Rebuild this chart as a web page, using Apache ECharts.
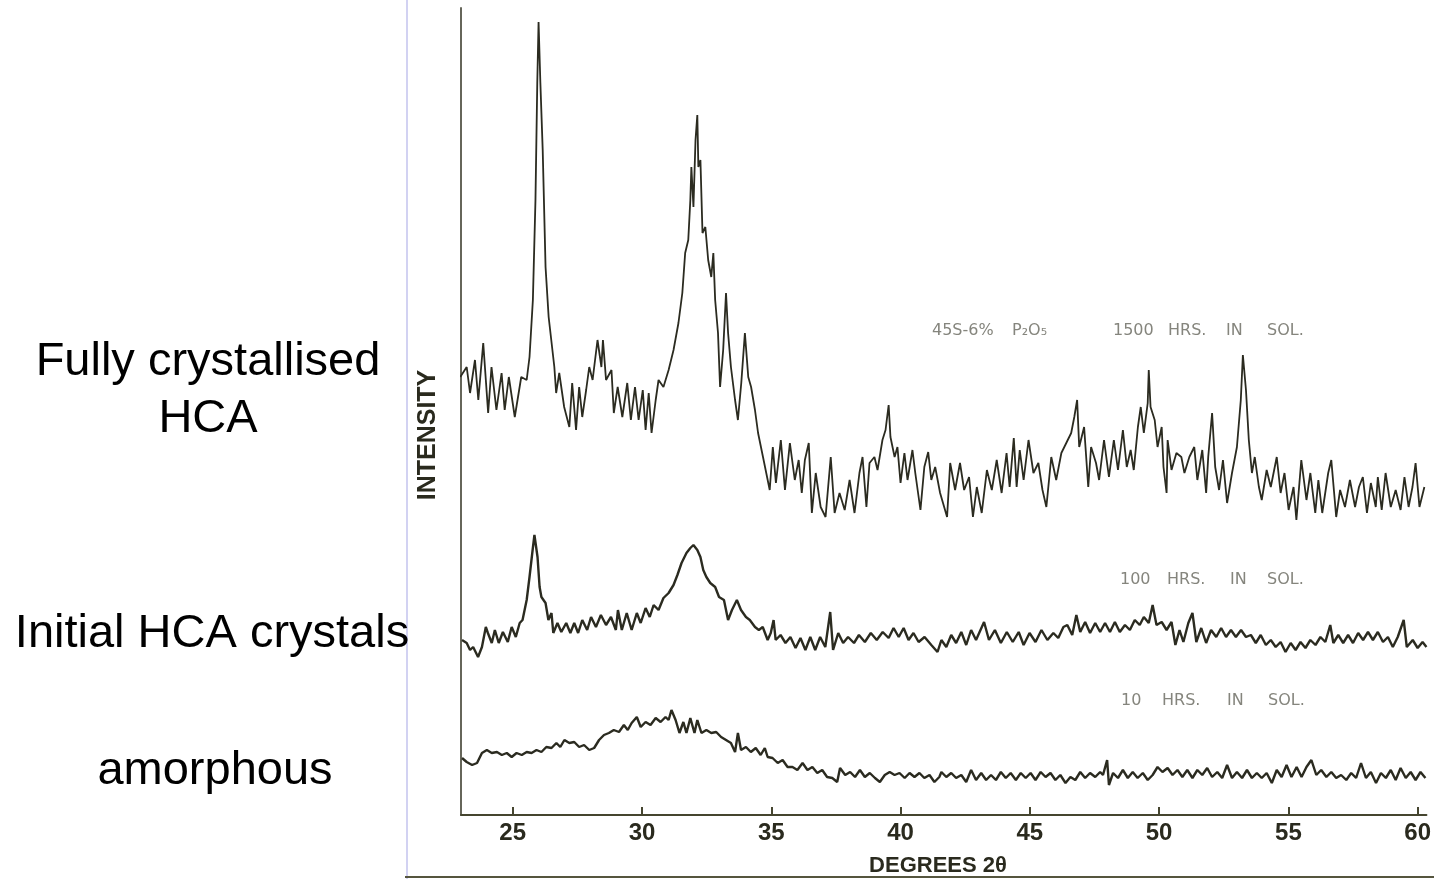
<!DOCTYPE html>
<html>
<head>
<meta charset="utf-8">
<script src="https://cdn.jsdelivr.net/npm/echarts@6/dist/echarts.min.js"></script>
<style>
html,body{margin:0;padding:0;background:#fff;}
#chart{width:1434px;height:879px;}
</style>
</head>
<body>
<div id="chart"></div>
<script>
// X-ray diffraction scans, 45S-6% P2O5 glass, intensity in arbitrary units
const xTicks = [25, 30, 35, 40, 45, 50, 55, 60];

const angle1500 = [22.97,23.22,23.35,23.54,23.67,23.86,24.05,24.18,24.37,24.57,24.69,24.85,25.08,25.33,25.54,25.65,25.78,25.88,25.95,26.00,26.07,26.16,26.27,26.39,26.61,26.68,26.80,26.99,27.19,27.30,27.45,27.57,27.69,27.84,27.96,28.09,28.28,28.43,28.49,28.61,28.82,28.91,29.06,29.24,29.43,29.57,29.73,29.87,30.03,30.14,30.26,30.37,30.53,30.64,30.83,31.03,31.22,31.41,31.56,31.67,31.79,31.87,31.91,31.99,32.07,32.14,32.18,32.26,32.34,32.45,32.56,32.68,32.76,32.83,32.94,33.02,33.14,33.25,33.33,33.44,33.60,33.71,33.84,33.98,34.11,34.22,34.37,34.49,34.68,34.94,35.06,35.18,35.37,35.53,35.72,35.91,36.06,36.18,36.30,36.45,36.57,36.72,36.91,37.10,37.30,37.45,37.64,37.84,38.03,38.22,38.41,38.53,38.68,38.80,38.99,39.11,39.30,39.42,39.54,39.61,39.77,39.88,40.00,40.15,40.27,40.46,40.57,40.77,40.92,41.07,41.19,41.34,41.53,41.80,41.92,42.11,42.30,42.46,42.65,42.80,42.95,43.14,43.34,43.53,43.72,43.91,44.10,44.22,44.38,44.49,44.61,44.76,44.95,45.14,45.33,45.49,45.64,45.83,46.02,46.22,46.41,46.60,46.72,46.83,46.91,47.10,47.26,47.37,47.56,47.68,47.87,48.06,48.25,48.41,48.60,48.75,48.90,49.02,49.18,49.29,49.41,49.56,49.60,49.67,49.83,49.94,50.10,50.17,50.29,50.33,50.48,50.67,50.86,50.98,51.17,51.36,51.48,51.67,51.82,51.90,52.05,52.17,52.32,52.47,52.63,52.82,53.01,53.16,53.24,53.36,53.47,53.59,53.70,53.86,53.97,54.16,54.32,54.55,54.70,54.85,55.01,55.20,55.31,55.50,55.70,55.85,56.04,56.16,56.31,56.54,56.66,56.85,57.00,57.19,57.38,57.58,57.73,57.88,58.04,58.19,58.38,58.46,58.61,58.76,58.96,59.15,59.34,59.49,59.65,59.80,59.92,60.07,60.26];
const int1500 = [438,448,422,455,415,472,402,448,405,442,405,438,398,438,435,458,515,615,732,793,732,665,548,498,448,422,442,408,388,432,385,428,398,425,448,435,475,448,475,435,445,402,428,398,432,395,428,395,425,385,422,382,415,435,428,445,465,492,522,562,575,615,648,608,675,700,648,655,582,588,555,538,562,515,482,428,465,522,482,448,415,395,432,482,438,428,405,382,358,325,368,332,375,325,372,335,355,322,355,372,302,342,308,298,358,302,322,305,335,302,342,358,308,352,358,345,375,385,410,378,358,368,332,362,335,365,342,305,348,363,335,348,322,298,352,325,352,325,338,298,328,302,345,325,355,322,362,328,377,328,365,335,375,342,352,325,308,358,335,362,372,382,398,415,368,388,328,368,352,335,375,338,375,345,385,348,365,345,388,408,382,412,445,408,395,368,388,348,322,375,345,362,358,342,358,368,335,365,322,358,402,348,325,355,312,342,368,415,460,425,375,342,358,328,315,345,328,358,322,342,305,328,295,355,315,342,302,335,302,342,355,298,325,308,335,308,328,338,302,332,308,338,305,342,308,325,305,338,308,328,352,308,328];

const angle100 = [23.04,23.22,23.35,23.47,23.66,23.81,23.96,24.04,24.19,24.31,24.46,24.62,24.81,24.96,25.12,25.27,25.38,25.54,25.65,25.77,25.84,25.96,26.04,26.11,26.27,26.38,26.50,26.57,26.73,26.88,27.07,27.23,27.38,27.53,27.69,27.88,28.03,28.22,28.41,28.61,28.80,28.99,29.07,29.22,29.41,29.60,29.80,29.95,30.14,30.30,30.45,30.64,30.83,31.03,31.22,31.37,31.53,31.72,31.87,31.99,32.14,32.26,32.37,32.49,32.64,32.83,32.98,33.17,33.33,33.48,33.67,33.83,34.02,34.17,34.37,34.52,34.67,34.86,34.98,35.09,35.17,35.36,35.55,35.74,35.94,36.13,36.32,36.51,36.70,36.89,37.09,37.28,37.39,37.59,37.78,37.97,38.20,38.39,38.62,38.85,39.08,39.31,39.54,39.73,39.93,40.12,40.31,40.50,40.70,40.93,41.19,41.43,41.58,41.77,41.96,42.15,42.35,42.54,42.73,42.92,43.23,43.42,43.65,43.88,44.11,44.34,44.57,44.76,44.99,45.22,45.45,45.68,45.91,46.10,46.30,46.45,46.64,46.80,46.95,47.14,47.33,47.53,47.72,47.91,48.10,48.29,48.48,48.68,48.87,49.06,49.25,49.41,49.60,49.75,49.90,50.10,50.29,50.48,50.63,50.79,50.94,51.13,51.29,51.44,51.63,51.82,52.01,52.21,52.40,52.59,52.78,52.97,53.17,53.36,53.55,53.74,53.93,54.13,54.32,54.51,54.70,54.89,55.09,55.28,55.47,55.66,55.85,56.05,56.24,56.43,56.62,56.74,56.93,57.12,57.31,57.50,57.70,57.89,58.08,58.27,58.46,58.66,58.85,59.04,59.23,59.46,59.58,59.81,60.00,60.19,60.34];
const int100 = [175,172,165,168,158,168,188,182,172,185,172,183,173,188,178,192,195,215,238,265,280,258,228,218,212,195,202,182,192,183,192,182,192,182,195,185,198,188,200,190,198,185,205,185,202,185,202,192,207,198,210,205,217,222,230,240,252,262,267,270,265,258,245,238,232,228,218,215,195,205,215,205,198,195,188,185,188,175,182,195,175,180,172,178,167,177,165,178,165,178,168,203,165,182,172,178,172,180,173,182,175,183,177,187,178,187,175,182,173,178,170,163,175,168,180,172,183,170,185,175,193,175,185,172,183,173,183,170,182,173,185,175,182,177,188,190,180,200,183,193,182,192,183,192,183,193,183,190,185,195,190,198,192,210,190,193,185,193,170,185,173,192,202,173,187,172,185,178,187,178,185,178,185,178,180,172,180,170,175,168,173,163,172,165,173,167,175,170,178,173,190,172,180,172,180,172,182,175,183,175,183,173,178,168,178,195,168,175,167,173,168];

const angle10 = [23.04,23.22,23.43,23.62,23.81,24.00,24.19,24.39,24.58,24.77,24.96,25.15,25.35,25.54,25.73,25.92,26.11,26.30,26.50,26.69,26.84,27.00,27.19,27.38,27.57,27.76,27.96,28.15,28.34,28.53,28.72,28.91,29.11,29.30,29.45,29.60,29.80,29.95,30.14,30.33,30.53,30.72,30.91,31.03,31.14,31.30,31.45,31.60,31.72,31.87,32.03,32.14,32.30,32.49,32.68,32.87,33.06,33.25,33.44,33.60,33.71,33.83,34.02,34.21,34.40,34.59,34.75,34.86,35.05,35.25,35.44,35.63,35.82,36.01,36.21,36.40,36.59,36.78,36.97,37.16,37.36,37.55,37.66,37.86,38.05,38.24,38.43,38.62,38.81,39.01,39.20,39.39,39.58,39.77,39.96,40.16,40.35,40.54,40.73,40.92,41.12,41.31,41.50,41.58,41.77,41.96,42.15,42.35,42.54,42.73,42.92,43.12,43.31,43.50,43.69,43.88,44.07,44.26,44.46,44.65,44.84,45.03,45.22,45.42,45.61,45.80,45.99,46.18,46.38,46.57,46.76,46.95,47.14,47.33,47.53,47.72,47.83,47.99,48.06,48.22,48.41,48.60,48.79,48.98,49.17,49.37,49.56,49.75,49.94,50.13,50.33,50.52,50.71,50.90,51.09,51.29,51.48,51.67,51.86,52.05,52.25,52.44,52.63,52.82,53.01,53.21,53.40,53.59,53.78,53.97,54.16,54.36,54.55,54.74,54.93,55.12,55.32,55.51,55.70,55.89,56.08,56.27,56.47,56.66,56.85,57.04,57.24,57.43,57.62,57.81,58.00,58.19,58.39,58.58,58.77,58.96,59.15,59.34,59.54,59.73,59.92,60.11,60.30];
const int10 = [57,53,50,52,62,65,62,63,60,62,58,62,60,63,62,65,63,68,67,72,68,75,72,73,68,70,65,67,75,80,82,85,83,90,85,92,98,88,93,90,97,93,98,95,105,95,82,93,82,97,82,95,82,85,82,83,78,75,72,63,82,65,68,63,67,60,67,58,57,52,55,48,48,45,52,45,48,42,45,38,37,33,47,40,43,38,45,38,42,37,33,40,43,40,42,37,42,38,42,37,40,33,38,43,38,42,37,40,33,45,35,42,35,40,35,43,37,42,35,42,37,42,35,43,38,42,35,40,32,38,35,43,37,42,38,43,40,55,30,42,37,45,37,43,37,42,35,40,48,43,47,40,45,38,45,37,45,40,47,38,43,37,50,37,43,37,45,37,42,37,42,32,45,38,50,38,48,38,48,55,40,45,38,43,37,40,35,42,37,52,37,43,32,42,37,45,35,47,37,43,35,43,37];

const sampleLabels = ['1500 HRS. IN SOL.', '100 HRS. IN SOL.', '10 HRS. IN SOL.'];

const toPairs = (a, v) => a.map((x, i) => [x, v[i]]);

const chart = echarts.init(document.getElementById('chart'), null, {renderer: 'canvas'});

const traceColor = '#2b2b20';
const annColor = '#85857d';
const annFont = '16px "DejaVu Sans", sans-serif';

function ann(text, x, y) {
  return {type: 'text', x: x, y: y, z: 10,
    style: {text: text, font: annFont, fill: annColor, align: 'left', verticalAlign: 'middle'}};
}
function bigLabel(text, x, y) {
  return {type: 'text', x: x, y: y, z: 10,
    style: {text: text, font: '47px "Liberation Sans", Arial, sans-serif', fill: '#000', align: 'center', verticalAlign: 'middle'}};
}

chart.setOption({
  animation: false,
  backgroundColor: '#ffffff',
  grid: {left: 461, right: 0, top: 8, bottom: 64, containLabel: false},
  xAxis: {
    type: 'value', min: 23.0, max: 60.34,
    axisLine: {show: true, lineStyle: {color: '#45452f', width: 2}},
    axisTick: {show: true, inside: true, length: 8, customValues: xTicks, lineStyle: {color: '#45452f', width: 2}},
    axisLabel: {show: true, customValues: xTicks, margin: 6, color: '#2a2a1e',
      fontFamily: '"Liberation Sans", Arial, sans-serif', fontWeight: 'bold', fontSize: 24},
    splitLine: {show: false}
  },
  yAxis: {
    type: 'value', min: 0, max: 807,
    axisLine: {show: true, lineStyle: {color: '#66665a', width: 2}},
    axisTick: {show: false}, axisLabel: {show: false}, splitLine: {show: false}
  },
  series: [
    {name: sampleLabels[0], type: 'line', data: toPairs(angle1500, int1500), showSymbol: false,
      lineStyle: {color: traceColor, width: 1.8}, itemStyle: {color: traceColor}},
    {name: sampleLabels[1], type: 'line', data: toPairs(angle100, int100), showSymbol: false,
      lineStyle: {color: traceColor, width: 2.4}, itemStyle: {color: traceColor}},
    {name: sampleLabels[2], type: 'line', data: toPairs(angle10, int10), showSymbol: false,
      lineStyle: {color: traceColor, width: 2.4}, itemStyle: {color: traceColor}}
  ],
  graphic: [
    // scan border
    {type: 'line', shape: {x1: 407, y1: 0, x2: 407, y2: 879}, style: {stroke: '#d2d2f2', lineWidth: 2}},
    {type: 'line', shape: {x1: 405, y1: 877, x2: 1434, y2: 877}, style: {stroke: '#55553e', lineWidth: 2}},
    bigLabel('Fully crystallised', 208, 362),
    bigLabel('HCA', 208, 419),
    bigLabel('Initial HCA crystals', 212, 634),
    bigLabel('amorphous', 215, 771),
    {type: 'text', x: 428, y: 435, rotation: Math.PI / 2, z: 10,
      style: {text: 'INTENSITY', font: 'bold 25px "Liberation Sans", Arial, sans-serif', fill: '#2a2a1e', align: 'center', verticalAlign: 'middle'}},
    {type: 'text', x: 938, y: 866, z: 10,
      style: {text: 'DEGREES 2θ', font: 'bold 22px "Liberation Sans", Arial, sans-serif', fill: '#2a2a1e', align: 'center', verticalAlign: 'middle'}},
    ann('45S-6%', 932, 331), ann('P₂O₅', 1012, 331),
    ann('1500', 1113, 331), ann('HRS.', 1168, 331), ann('IN', 1226, 331), ann('SOL.', 1267, 331),
    ann('100', 1120, 580), ann('HRS.', 1167, 580), ann('IN', 1230, 580), ann('SOL.', 1267, 580),
    ann('10', 1121, 701), ann('HRS.', 1162, 701), ann('IN', 1227, 701), ann('SOL.', 1268, 701)
  ]
});
</script>
</body>
</html>
